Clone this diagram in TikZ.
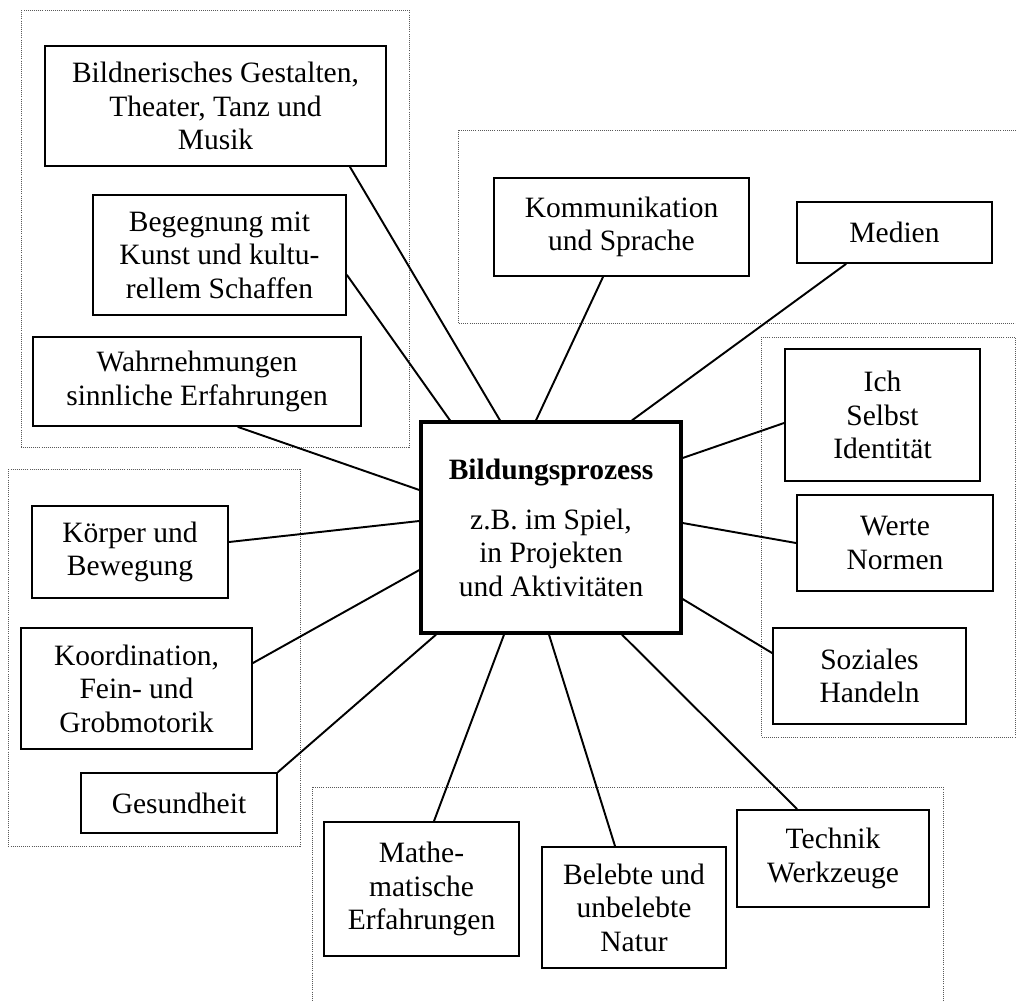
\documentclass[tikz,border=0pt]{standalone}
\usepackage{fontspec}
\setmainfont{Liberation Serif}
\usepackage{tikz}
\usetikzlibrary{calc}
\tikzset{
  topic/.style={draw=black,line width=1.1pt,fill=white,align=center,inner sep=0pt,
                font=\fontsize{16.8}{19.1}\selectfont},
  group/.style={draw=black!65,line width=0.5pt,dash pattern=on 0.5pt off 0.7pt},
  link/.style={line width=1.1pt,line cap=round}
}

\begin{document}
\begin{tikzpicture}[x=0.02cm,y=-0.02cm]
  \useasboundingbox (0,0) rectangle (1016,1001);
  % Dotted group frames
  \draw[group] (21,10) rectangle (409,447);
  \draw[group] (458,130) rectangle (1030,323);
  \draw[group] (761,337) rectangle (1015,737);
  \draw[group] (8,469) rectangle (300,846);
  \draw[group] (312,787) rectangle (943,1015);
  % Central box
  \node[topic,line width=1.9pt,minimum width=5.20cm,minimum height=4.22cm] (proc) at (551,527.5)
    {\textbf{Bildungsprozess}\\[0.33cm]z.B. im Spiel,\\in Projekten\\und Aktivitäten};
  % Topics
  \node[topic,minimum width=6.82cm,minimum height=2.40cm] (bild) at (215.5,106)
    {Bildnerisches Gestalten,\\Theater, Tanz und\\Musik};
  \node[topic,minimum width=5.06cm,minimum height=2.40cm] (beg) at (219.5,255)
    {Begegnung mit\\Kunst und kultu-\\rellem Schaffen};
  \node[topic,minimum width=6.56cm,minimum height=1.78cm] (wahr) at (197,381.5)
    {Wahrnehmungen\\sinnliche Erfahrungen};
  \node[topic,minimum width=5.10cm,minimum height=1.96cm] (kom) at (621.5,227)
    {Kommunikation\\und Sprache};
  \node[topic,minimum width=3.90cm,minimum height=1.22cm] (med) at (894.5,232.5)
    {Medien};
  \node[topic,minimum width=3.90cm,minimum height=2.64cm] (ich) at (882.5,415)
    {Ich\\Selbst\\Identität};
  \node[topic,minimum width=3.92cm,minimum height=1.92cm] (wer) at (895,543)
    {Werte\\Normen};
  \node[topic,minimum width=3.86cm,minimum height=1.92cm] (soz) at (869.5,676)
    {Soziales\\Handeln};
  \node[topic,minimum width=3.92cm,minimum height=1.84cm] (kor) at (130,552)
    {Körper und\\Bewegung};
  \node[topic,minimum width=4.62cm,minimum height=2.42cm] (koo) at (136.5,688.5)
    {Koordination,\\Fein- und\\Grobmotorik};
  \node[topic,minimum width=3.92cm,minimum height=1.20cm] (ges) at (179,803)
    {Gesundheit};
  \node[topic,minimum width=3.90cm,minimum height=2.68cm] (mat) at (421.5,889)
    {Mathe-\\matische\\Erfahrungen};
  \node[topic,minimum width=3.68cm,minimum height=2.42cm] (bel) at (634,907.5)
    {Belebte und\\unbelebte\\Natur};
  \node[topic,minimum width=3.84cm,minimum height=1.94cm] (tec) at (833,858.5)
    {Technik\\Werkzeuge};
  % Connectors
  \draw[link] ($(bild.south)+(134.5,0)$) -- ($(proc.north)+(-51,0)$);
  \draw[link] ($(beg.east)+(0,20)$) -- ($(proc.north)+(-101,0)$);
  \draw[link] ($(wahr.south)+(41,0)$) -- ($(proc.west)+(0,-37.5)$);
  \draw[link] ($(kom.south)+(-18.5,0)$) -- ($(proc.north)+(-15,0)$);
  \draw[link] ($(med.south)+(-48.5,0)$) -- ($(proc.north)+(81,0)$);
  \draw[link] ($(proc.east)+(0,-69.5)$) -- ($(ich.west)+(0,8)$);
  \draw[link] ($(proc.east)+(0,-4.5)$) -- (wer.west);
  \draw[link] ($(proc.east)+(0,71.5)$) -- ($(soz.west)+(0,-23)$);
  \draw[link] ($(proc.south)+(71,0)$) -- ($(tec.north)+(-36,0)$);
  \draw[link] ($(proc.south)+(-2,0)$) -- ($(bel.north)+(-19,0)$);
  \draw[link] ($(proc.south)+(-47,0)$) -- ($(mat.north)+(12.5,0)$);
  \draw[link] ($(proc.south)+(-115,0)$) -- (ges.north east);
  \draw[link] ($(proc.west)+(0,42.5)$) -- ($(koo.east)+(0,-25.5)$);
  \draw[link] ($(proc.west)+(0,-6.5)$) -- ($(kor.east)+(0,-10)$);
\end{tikzpicture}
\end{document}
